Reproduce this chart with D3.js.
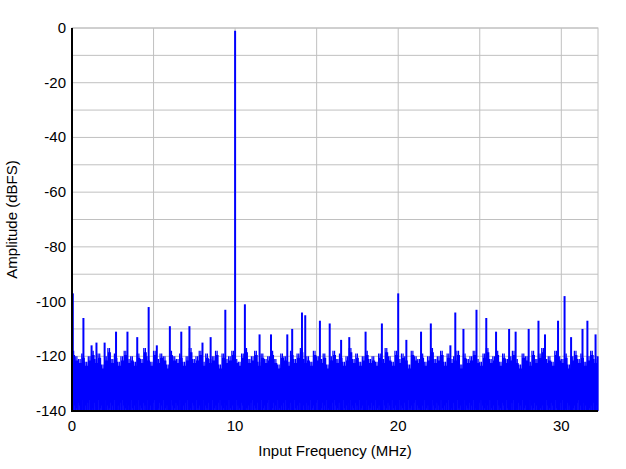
<!DOCTYPE html><html><head><meta charset="utf-8"><script src="https://cdn.jsdelivr.net/npm/d3@7"></script>
<style>body{margin:0;background:#fff}text{font-family:Arial,"Liberation Sans",sans-serif}</style></head><body><svg id="c" width="626" height="469"></svg><script>
const xTicks=[0,10,20,30];
const yTicks=[0,-20,-40,-60,-80,-100,-120,-140];
const spurFreq=[0.05,0.7,1.2,1.5,2.0,2.7,3.4,4.0,4.7,5.2,6.0,6.7,7.2,8.0,8.5,9.4,10.0,10.6,11.5,12.2,13.2,13.5,14.1,14.3,15.2,15.8,16.5,17.0,18.0,19.0,20.0,20.5,21.4,22.0,23.2,23.5,24.0,24.8,25.4,26.0,26.8,27.2,28.0,28.6,29.0,29.8,30.2,30.6,31.3,31.6,32.1];
const spurDb=[-97,-106,-116,-115,-115,-111,-111,-113,-102,-116,-109,-111,-109,-115,-113,-103,-1,-101,-112,-112,-112,-110,-104,-105,-107,-108,-114,-113,-111,-108,-97,-114,-111,-108,-116,-104,-110,-103,-106,-111,-110,-111,-110,-107,-112,-107,-98,-113,-110,-107,-112];
// noise floor top per 0.2 MHz bin
const noiseTop=[-118,-120,-121,-119,-122,-120,-118,-121,-119,-123,-120,-117,-121,-119,-122,-120,-118,-121,-120,-122,-119,-121,-117,-120,-122,-118,-121,-119,-120,-123,-118,-120,-121,-119,-122,-120,-117,-121,-120,-118,-122,-119,-121,-120,-118,-123,-119,-121,-120,-118,-121,-122,-119,-117,-121,-120,-118,-122,-119,-121,-120,-118,-121,-123,-119,-120,-122,-118,-121,-119,-117,-121,-120,-122,-118,-120,-121,-119,-123,-120,-118,-121,-119,-122,-120,-117,-121,-119,-122,-120,-118,-121,-120,-122,-119,-121,-117,-120,-122,-118,-121,-119,-120,-123,-118,-120,-121,-119,-122,-120,-117,-121,-120,-118,-122,-119,-121,-120,-118,-123,-119,-121,-120,-118,-121,-122,-119,-117,-121,-120,-118,-122,-119,-121,-120,-118,-121,-123,-119,-120,-122,-118,-121,-119,-117,-121,-120,-122,-118,-120,-121,-119,-123,-120,-118,-121,-119,-122,-120,-118,-121,-120];
const noiseLow=[-140,-136,-140,-138,-140,-139,-140,-137,-140,-138,-140,-140,-136,-140,-139,-140,-138,-140,-140,-137];
const svg=d3.select("#c");
const m={l:72,t:28,r:598,b:411};
const x=d3.scaleLinear().domain([0,32.25]).range([m.l,m.r]);
const y=d3.scaleLinear().domain([-140,0]).range([m.b,m.t]);
const g=svg.append("g");
for(let f=5;f<=32;f+=5)g.append("line").attr("x1",x(f)).attr("x2",x(f)).attr("y1",m.t).attr("y2",m.b).attr("stroke","#c0c0c0");
for(let d=-130;d<=0;d+=10)g.append("line").attr("x1",m.l).attr("x2",m.r).attr("y1",y(d)).attr("y2",y(d)).attr("stroke","#c0c0c0");
g.append("rect").attr("x",m.l).attr("y",m.t).attr("width",m.r-m.l).attr("height",m.b-m.t).attr("fill","none").attr("stroke","#c0c0c0");
// noise as zigzag
const pts=[];
const step=0.2;
noiseTop.forEach((v,i)=>{const f=i*step;const sub=[0,0.05,0.1,0.15];sub.forEach((s,k)=>{const lo=noiseLow[(i*4+k)%noiseLow.length];pts.push([f+s,k%2?v-1.5:v]);pts.push([f+s+0.025,lo]);});});
const line=d3.line().x(d=>x(Math.min(d[0],32.25))).y(d=>y(d[1]));
g.append("path").attr("d",line(pts)).attr("fill","none").attr("stroke","#0000ff").attr("stroke-width",1.2);
g.append("rect").attr("x",m.l).attr("y",y(-125)).attr("width",m.r-m.l).attr("height",y(-140)-y(-125)).attr("fill","#0000ff").attr("opacity",0.85);
spurFreq.forEach((f,i)=>g.append("line").attr("x1",x(f)).attr("x2",x(f)).attr("y1",y(-140)).attr("y2",y(spurDb[i])).attr("stroke","#0000ff").attr("stroke-width",2));
g.append("line").attr("x1",m.l).attr("x2",m.l).attr("y1",m.t).attr("y2",m.b+1).attr("stroke","#000").attr("stroke-width",2);
g.append("line").attr("x1",m.l-1).attr("x2",m.r).attr("y1",m.b).attr("y2",m.b).attr("stroke","#000").attr("stroke-width",2);
xTicks.forEach(t=>svg.append("text").attr("x",x(t)).attr("y",m.b+20).attr("text-anchor","middle").attr("font-size",15).text(t));
yTicks.forEach(t=>svg.append("text").attr("x",m.l-6).attr("y",y(t)+5).attr("text-anchor","end").attr("font-size",15).text(t));
svg.append("text").attr("x",(m.l+m.r)/2).attr("y",456).attr("text-anchor","middle").attr("font-size",15).text("Input Frequency (MHz)");
svg.append("text").attr("transform",`translate(17,${(m.t+m.b)/2}) rotate(-90)`).attr("text-anchor","middle").attr("font-size",15).text("Amplitude (dBFS)");
</script></body></html>
